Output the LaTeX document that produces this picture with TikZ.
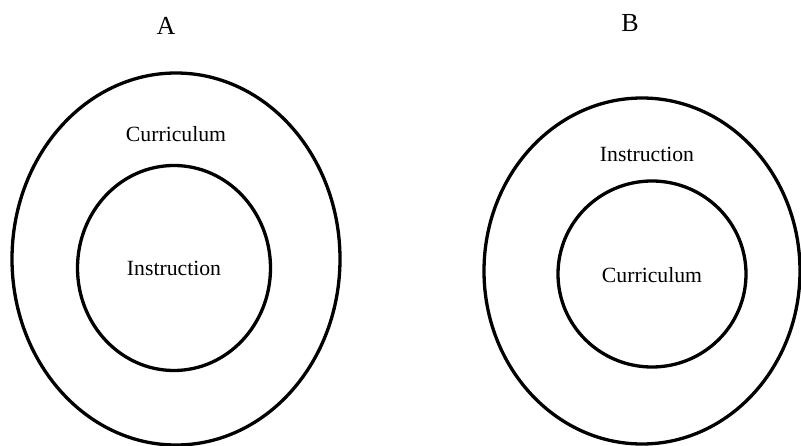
\documentclass[tikz,border=0pt]{standalone}
\usepackage{fontspec}
\setmainfont{Liberation Serif}
\usetikzlibrary{shapes.geometric}
\begin{document}
\begin{tikzpicture}[x=1pt,y=-1pt,
  ring/.style={draw=black, line width=3.3pt, ellipse, inner sep=0pt},
  label/.style={font=\fontsize{21.7}{24}\selectfont, anchor=base, inner sep=0pt},
  heading/.style={font=\fontsize{26}{30}\selectfont, anchor=base, inner sep=0pt}]
  \useasboundingbox (0,0) rectangle (801,446);
  % model A: instruction nested inside curriculum
  \node[ring, minimum width=328, minimum height=372] (outerA) at (176,259) {};
  \node[ring, minimum width=193, minimum height=205] (innerA) at (174,268) {};
  \node[heading] (titleA) at (166,35) {A};
  \node[label] (curA) at (176,142) {Curriculum};
  \node[label] (insA) at (174,276) {Instruction};
  % model B: curriculum nested inside instruction
  \node[ring, minimum width=316, minimum height=346] (outerB) at (642,271) {};
  \node[ring, minimum width=188, minimum height=186] (innerB) at (652,274) {};
  \node[heading] (titleB) at (630,32) {B};
  \node[label] (insB) at (647,162) {Instruction};
  \node[label] (curB) at (652,283) {Curriculum};
\end{tikzpicture}
\end{document}
